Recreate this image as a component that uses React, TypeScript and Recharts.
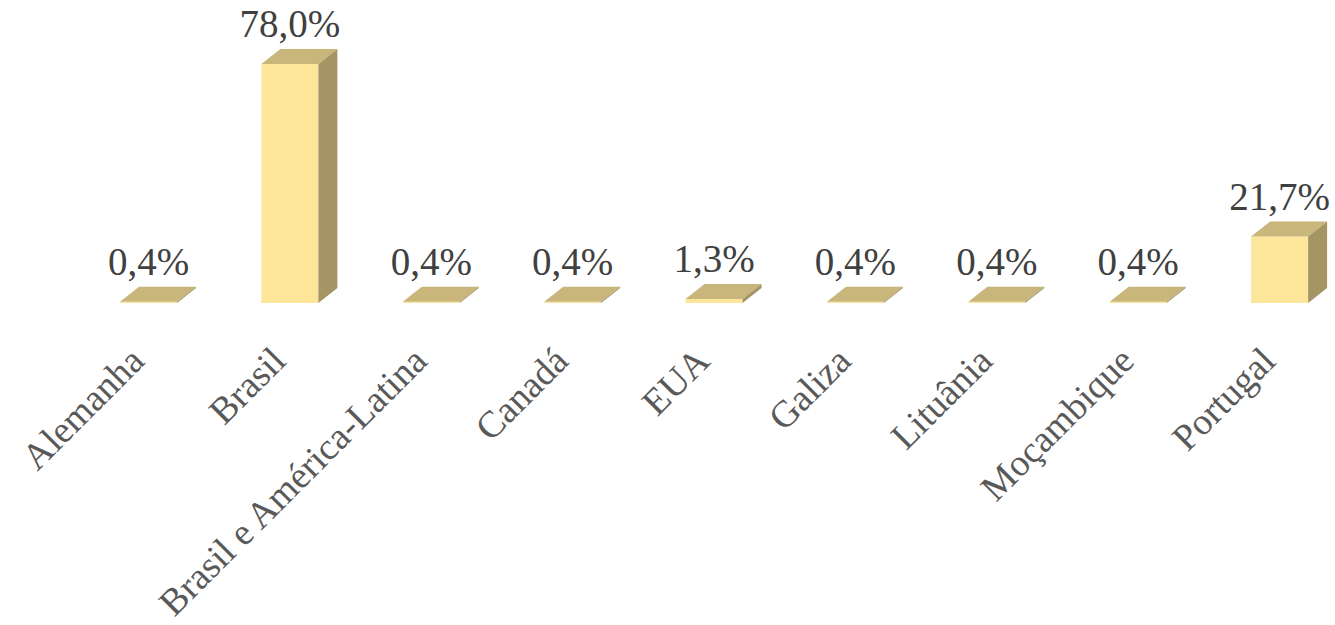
import React from "react";
import { BarChart, Bar, XAxis, YAxis, LabelList } from "recharts";

const countries = [
  "Alemanha",
  "Brasil",
  "Brasil e América-Latina",
  "Canadá",
  "EUA",
  "Galiza",
  "Lituânia",
  "Moçambique",
  "Portugal",
];
const shares = [0.4, 78.0, 0.4, 0.4, 1.3, 0.4, 0.4, 0.4, 21.7];

const data = countries.map((name, i) => ({ name, value: shares[i] }));

const FONT = '"Liberation Serif", "Times New Roman", serif';
const DX = 19;
const DY = 15;
const BAR_W = 57;

const Bar3D = (props: any) => {
  const { x, y, width, height } = props;
  const fx = x + width / 2 - BAR_W / 2 - DX / 2;
  const r = fx + BAR_W;
  const b = y + height;
  return (
    <g>
      <rect x={fx} y={y} width={BAR_W} height={Math.max(height, 0.8)} fill="#FDE59A" />
      <polygon
        points={`${fx},${y} ${fx + DX},${y - DY} ${r + DX},${y - DY} ${r},${y}`}
        fill="#C8B67B"
      />
      <polygon
        points={`${r},${y} ${r + DX},${y - DY} ${r + DX},${b - DY} ${r},${b}`}
        fill="#A59564"
      />
    </g>
  );
};

const ValueLabel = (props: any) => {
  const { x, y, width, value } = props;
  const cx = x + width / 2 - DX / 2;
  return (
    <text
      x={cx}
      y={y - 27}
      textAnchor="middle"
      fontFamily={FONT}
      fontSize={39}
      fill="#404040"
    >
      {value.toFixed(1).replace(".", ",")}%
    </text>
  );
};

const CountryTick = (props: any) => {
  const { x, y, payload } = props;
  const ax = x - 12;
  const ay = y + 60;
  return (
    <text
      x={ax}
      y={ay}
      transform={`rotate(-45, ${ax}, ${ay})`}
      textAnchor="end"
      fontFamily={FONT}
      fontSize={37.5}
      fill="#595959"
    >
      {payload.value}
    </text>
  );
};

const App = () => {
  return (
    <div
      style={{
        position: "absolute",
        left: 0,
        top: 0,
        width: 1335,
        height: 625,
        overflow: "hidden",
        background: "#fff",
      }}
    >
      <BarChart
        width={1370}
        height={625}
        data={data}
        margin={{ top: 64, right: 10, left: 87.5, bottom: 0 }}
      >
        <XAxis
          dataKey="name"
          height={322}
          axisLine={false}
          tickLine={false}
          tickSize={0}
          tickMargin={0}
          interval={0}
          tick={<CountryTick />}
        />
        <YAxis hide domain={[0, 78]} />
        <Bar dataKey="value" barSize={BAR_W} shape={<Bar3D />} isAnimationActive={false}>
          <LabelList dataKey="value" content={<ValueLabel />} />
        </Bar>
      </BarChart>
    </div>
  );
};

export default App;
